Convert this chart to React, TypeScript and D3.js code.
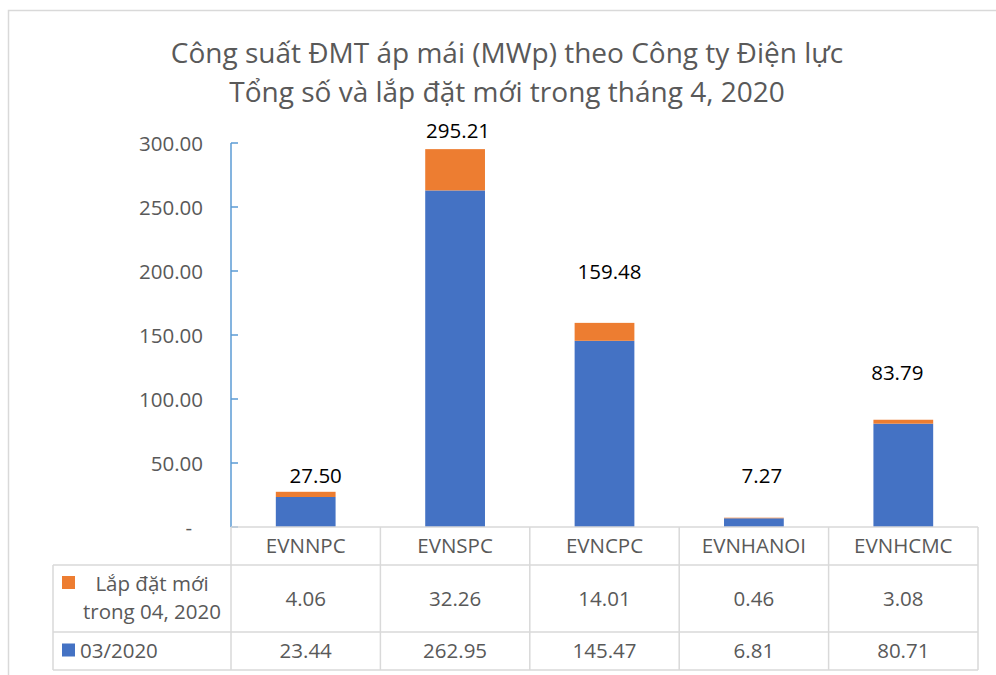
import * as d3 from 'd3';

const categories = ['EVNNPC', 'EVNSPC', 'EVNCPC', 'EVNHANOI', 'EVNHCMC'];
const base0320 = [23.44, 262.95, 145.47, 6.81, 80.71];
const newApr = [4.06, 32.26, 14.01, 0.46, 3.08];
const totals = [27.5, 295.21, 159.48, 7.27, 83.79];
const yTicks = [0, 50, 100, 150, 200, 250, 300];
const seriesNames = ['Lắp đặt mới', '03/2020'];
const titleLines = [
  'Công suất ĐMT áp mái (MWp) theo Công ty Điện lực',
  'Tổng số và lắp đặt mới trong tháng 4, 2020',
];

// manual nudges Excel applied to the total labels (px, relative to bar top)
const LABEL_NUDGE = [
  [10, 9],
  [3, 11],
  [5, 44],
  [8, 35],
  [-6, 40],
];

const W = 996;
const H = 675;
const PLOT = { left: 231, right: 978, top: 143, bottom: 527 };
const ROW = { header: 565, r1: 632, r2: 670 };
const LEGEND_LEFT = 53;
const FONT = "'Open Sans', 'Noto Sans', sans-serif";
const GRID = '#d9d9d9';
const TEXT = '#595959';
const BLUE = '#4472C4';
const ORANGE = '#ED7D31';

export default function App() {
  const x = d3
    .scaleBand<string>()
    .domain(categories)
    .range([PLOT.left, PLOT.right])
    .padding(0);
  const y = d3.scaleLinear().domain([0, 300]).range([PLOT.bottom, PLOT.top]);
  const barW = x.bandwidth() * 0.4;
  const fmt = d3.format('.2f');

  const stackData = categories.map((c, i) => ({ cat: c, base: base0320[i], add: newApr[i] }));
  const stacked = d3.stack<any>().keys(['base', 'add'])(stackData);
  const colors: Record<string, string> = { base: BLUE, add: ORANGE };

  return (
    <div style={{ position: 'absolute', left: 0, top: 0 }}>
      <svg width={W} height={H} style={{ display: 'block', background: '#fff' }}>
        {/* chart area border (cropped at right / bottom) */}
        <path d={`M8.5,${H} V10.5 H${W}`} fill="none" stroke={GRID} strokeWidth={1.5} />

        {/* title */}
        <g fontFamily={FONT} fill={TEXT} fontSize={28} textAnchor="middle">
          {titleLines.map((t, i) => (
            <text key={i} x={507} y={63 + i * 39}>
              {t}
            </text>
          ))}
        </g>

        {/* y axis labels */}
        <g fontFamily={FONT} fill={TEXT} fontSize={20.5} textAnchor="end">
          {yTicks.map((t) => (
            <text key={t} x={t === 0 ? 192 : 203} y={y(t) + 7.5}>
              {t === 0 ? '-' : fmt(t)}
            </text>
          ))}
        </g>

        {/* bars */}
        {stacked.map((s) => (
          <g key={s.key} fill={colors[s.key]}>
            {s.map((d, i) => (
              <rect
                key={i}
                x={(x(categories[i]) ?? 0) + (x.bandwidth() - barW) / 2}
                y={y(d[1])}
                width={barW}
                height={y(d[0]) - y(d[1])}
              />
            ))}
          </g>
        ))}

        {/* total labels */}
        <g fontFamily={FONT} fill="#000" fontSize={20.5} textAnchor="middle">
          {totals.map((v, i) => (
            <text
              key={i}
              x={(x(categories[i]) ?? 0) + x.bandwidth() / 2 + LABEL_NUDGE[i][0]}
              y={y(base0320[i] + newApr[i]) - LABEL_NUDGE[i][1]}
            >
              {fmt(v)}
            </text>
          ))}
        </g>

        {/* y axis line and ticks */}
        <g stroke="#5B9BD5" strokeWidth={1.5} fill="none">
          <line x1={PLOT.left} x2={PLOT.left} y1={PLOT.top} y2={PLOT.bottom} />
          {yTicks.map((t) => (
            <line key={t} x1={PLOT.left} x2={PLOT.left + 7} y1={y(t)} y2={y(t)} />
          ))}
        </g>

        {/* data table grid */}
        <g stroke={GRID} strokeWidth={1.5} fill="none">
          <line x1={PLOT.left} x2={PLOT.right} y1={PLOT.bottom} y2={PLOT.bottom} />
          <line x1={LEGEND_LEFT} x2={PLOT.right} y1={ROW.header} y2={ROW.header} />
          <line x1={LEGEND_LEFT} x2={PLOT.right} y1={ROW.r1} y2={ROW.r1} />
          <line x1={LEGEND_LEFT} x2={PLOT.right} y1={ROW.r2} y2={ROW.r2} />
          <line x1={LEGEND_LEFT} x2={LEGEND_LEFT} y1={ROW.header} y2={ROW.r2} />
          {categories.map((c) => (
            <line key={c} x1={x(c)} x2={x(c)} y1={PLOT.bottom} y2={ROW.r2} />
          ))}
          <line x1={PLOT.right} x2={PLOT.right} y1={PLOT.bottom} y2={ROW.r2} />
        </g>

        {/* table text */}
        <g fontFamily={FONT} fill={TEXT} fontSize={20.5} textAnchor="middle">
          {categories.map((c, i) => {
            const cx = (x(c) ?? 0) + x.bandwidth() / 2;
            return (
              <g key={c}>
                <text x={cx} y={553}>{c}</text>
                <text x={cx} y={605.5}>{fmt(newApr[i])}</text>
                <text x={cx} y={658}>{fmt(base0320[i])}</text>
              </g>
            );
          })}
        </g>

        {/* legend keys in the table */}
        <rect x={62} y={576} width={13} height={13} fill={ORANGE} />
        <rect x={62} y={643.5} width={13} height={13} fill={BLUE} />
        <g fontFamily={FONT} fill={TEXT} fontSize={20.5}>
          <text x={152} y={591} textAnchor="middle">{seriesNames[0]}</text>
          <text x={152} y={619} textAnchor="middle">trong 04, 2020</text>
          <text x={80} y={658}>{seriesNames[1]}</text>
        </g>
      </svg>
    </div>
  );
}
